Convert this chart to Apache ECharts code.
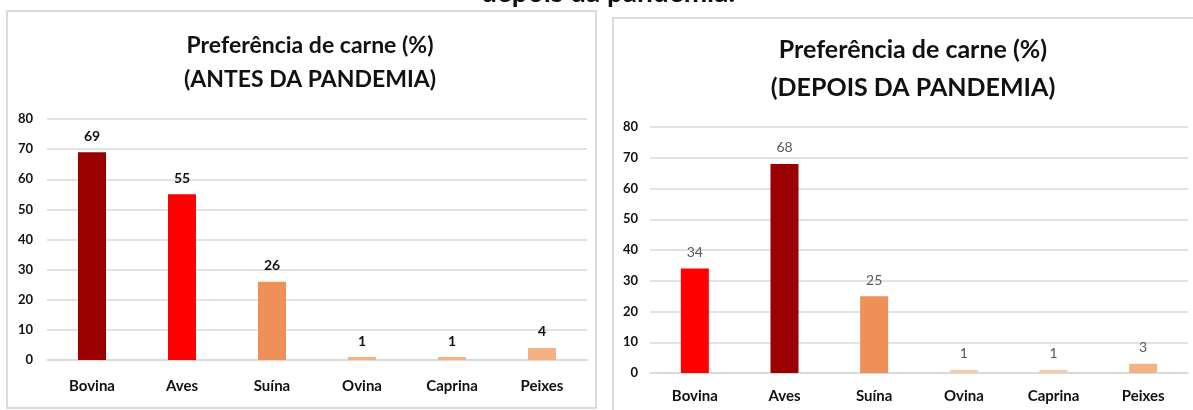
<!DOCTYPE html>
<html>
<head>
<meta charset="utf-8">
<script src="https://cdn.jsdelivr.net/npm/echarts@6/dist/echarts.min.js"></script>
<style>
  html, body { margin: 0; padding: 0; background: #ffffff; }
  #chart { width: 1193px; height: 410px; }
</style>
</head>
<body>
<div id="chart"></div>
<script>
// Meat preference (%) before and after the pandemic
const categories = ['Bovina', 'Aves', 'Suína', 'Ovina', 'Caprina', 'Peixes'];
const antesValues = [69, 55, 26, 1, 1, 4];
const depoisValues = [34, 68, 25, 1, 1, 3];
const yTickMin = 0;
const yTickMax = 80;
const yTickStep = 10;

const antesColors = ['#9b0000', '#ff0000', '#ee9058', '#f4b183', '#f4b183', '#f4b183'];
const depoisColors = ['#ff0000', '#9b0000', '#ee9058', '#f8cbad', '#f8cbad', '#f4b183'];

const FONT = 'Lato, "Open Sans", sans-serif';
const GRID_LINE = '#d9d9d9';

function coloured(values, colors) {
  return values.map((v, i) => ({ value: v, itemStyle: { color: colors[i] } }));
}

function yAxisFor(gridIndex, margin) {
  return {
    type: 'value', gridIndex: gridIndex,
    min: yTickMin, max: yTickMax, interval: yTickStep,
    axisLine: { show: false }, axisTick: { show: false },
    axisLabel: { color: '#111111', fontFamily: FONT, fontWeight: 'bold', fontSize: 13, margin: margin },
    splitLine: { lineStyle: { color: GRID_LINE, width: 1.5 } }
  };
}

function xAxisFor(gridIndex, margin) {
  return {
    type: 'category', gridIndex: gridIndex, data: categories,
    axisLine: { lineStyle: { color: GRID_LINE, width: 1.5 } },
    axisTick: { show: false },
    axisLabel: { color: '#111111', fontFamily: FONT, fontWeight: 'bold', fontSize: 15, margin: margin }
  };
}

const chart = echarts.init(document.getElementById('chart'), null, { renderer: 'canvas' });

chart.setOption({
  animation: false,
  backgroundColor: '#ffffff',
  graphic: [
    { type: 'rect', shape: { x: 7, y: 11, width: 589, height: 397 },
      style: { fill: 'none', stroke: '#cfcfcf', lineWidth: 1.5 }, z: 0 },
    { type: 'rect', shape: { x: 613, y: 18, width: 600, height: 420 },
      style: { fill: 'none', stroke: '#cfcfcf', lineWidth: 1.5 }, z: 0 },
    { type: 'text', x: 608, y: -21,
      style: { text: 'depois da pandemia.', fill: '#111111', font: 'bold 28px ' + FONT,
               textAlign: 'center', textVerticalAlign: 'top' }, z: 5 }
  ],
  title: [
    { text: 'Preferência de carne (%)\n(ANTES DA PANDEMIA)', left: 305, top: 24, textAlign: 'center',
      textStyle: { fontFamily: FONT, fontWeight: 'bold', fontSize: 23, lineHeight: 34, color: '#111111' } },
    { text: 'Preferência de carne (%)\n(DEPOIS DA PANDEMIA)', left: 908, top: 26, textAlign: 'center',
      textStyle: { fontFamily: FONT, fontWeight: 'bold', fontSize: 25, lineHeight: 38, color: '#111111' } }
  ],
  grid: [
    { left: 47, right: 1193 - 587, top: 119, bottom: 410 - 360 },
    { left: 650, right: 1193 - 1188, top: 127, bottom: 410 - 373 }
  ],
  xAxis: [xAxisFor(0, 19), xAxisFor(1, 16)],
  yAxis: [yAxisFor(0, 14), yAxisFor(1, 12)],
  series: [
    { type: 'bar', xAxisIndex: 0, yAxisIndex: 0, barWidth: 28,
      data: coloured(antesValues, antesColors),
      label: { show: true, position: 'top', distance: 9, color: '#111111',
               fontFamily: FONT, fontWeight: 'bold', fontSize: 14 } },
    { type: 'bar', xAxisIndex: 1, yAxisIndex: 1, barWidth: 28,
      data: coloured(depoisValues, depoisColors),
      label: { show: true, position: 'top', distance: 9, color: '#595959',
               fontFamily: FONT, fontWeight: 'normal', fontSize: 14 } }
  ]
});
</script>
</body>
</html>
